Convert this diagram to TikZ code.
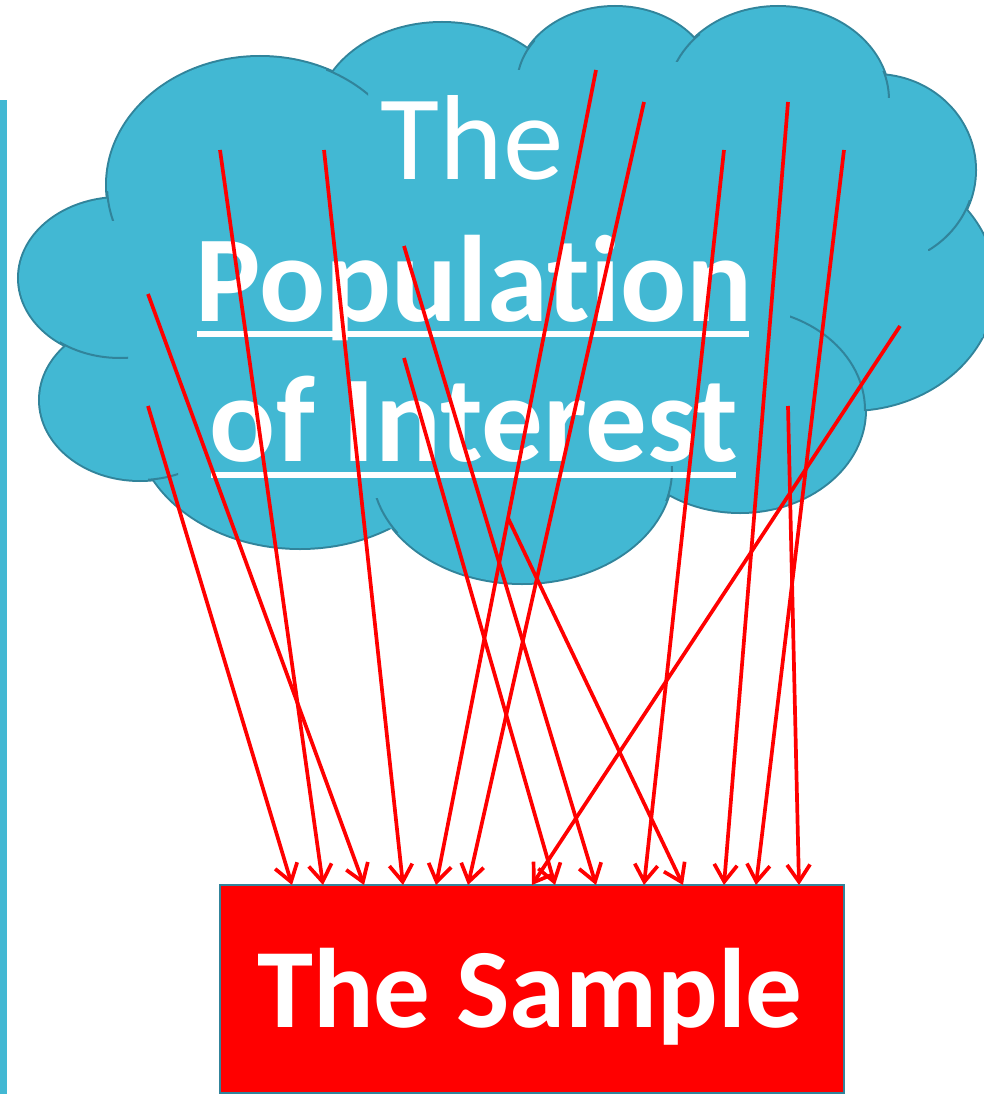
\documentclass[tikz,border=0pt]{standalone}
\usepackage{fontspec}
\setmainfont{Carlito}[Ligatures=NoCommon]
\usetikzlibrary{arrows.meta}
\definecolor{cloudfill}{RGB}{66,184,211}
\definecolor{cloudline}{RGB}{49,132,155}
\definecolor{boxred}{RGB}{255,0,0}
\begin{document}
\begin{tikzpicture}[x=1pt,y=-1pt,
  cloudedge/.style={draw=cloudline, line width=4pt},
  cloudinner/.style={draw=cloudline, line width=2pt},
  samplebox/.style={fill=boxred, draw=cloudline, line width=2pt, minimum width=624pt, minimum height=208pt, inner sep=0pt},
  titlereg/.style={text=white, anchor=base, inner sep=0pt, font=\fontsize{121}{121}\selectfont},
  titlebold/.style={text=white, anchor=base, inner sep=0pt, font=\fontsize{123}{123}\selectfont\bfseries},
  sampletext/.style={text=white, anchor=base, inner sep=0pt, font=\fontsize{113}{113}\selectfont\bfseries},
  samplearrow/.style={draw=red, line width=3.7pt, -{Straight Barb[length=17pt,width=23pt]}},
  uline/.style={fill=white}
]
\useasboundingbox (0,0) rectangle (983,1094);
% left bar
\fill[cloudfill] (0,100) rectangle (7,1094);
% cloud: strokes first
\foreach \cx/\cy/\rx/\ry in {260/185/153/128, 442/120/125/97, 615/85/98/78, 778/100/111/93, 875/170/100/95, 850/285/145/125, 740/410/125/102, 522/470/150/113, 300/420/165/128, 140/400/100/80, 120/278/101/80}
  \draw[cloudedge] (\cx,\cy) ellipse [x radius=\rx, y radius=\ry];
% cloud: fills
\foreach \cx/\cy/\rx/\ry in {260/185/153/128, 442/120/125/97, 615/85/98/78, 778/100/111/93, 875/170/100/95, 850/285/145/125, 740/410/125/102, 522/470/150/113, 300/420/165/128, 140/400/100/80, 120/278/101/80}
  \fill[cloudfill] (\cx,\cy) ellipse [x radius=\rx, y radius=\ry];
\fill[cloudfill] (107,200) -- (333,72) -- (530,50) -- (693,40) -- (885,78) -- (965,212) -- (983,337) -- (865,407) -- (665,495) -- (393,529) -- (152,477) -- (70,345) -- cycle;
% interior arcs
\begin{scope}\clip (326,60) rectangle (368,100); \draw[cloudinner] (260,185) ellipse [x radius=153, y radius=128];\end{scope}
\begin{scope}\clip (100,192) rectangle (116,220); \draw[cloudinner] (260,185) ellipse [x radius=153, y radius=128];\end{scope}
\begin{scope}\clip (60,335) rectangle (128,362); \draw[cloudinner] (120,278) ellipse [x radius=101, y radius=80];\end{scope}
\begin{scope}\clip (148,462) rectangle (178,485); \draw[cloudinner] (140,400) ellipse [x radius=100, y radius=80];\end{scope}
\begin{scope}\clip (372,498) rectangle (398,532); \draw[cloudinner] (522,470) ellipse [x radius=150, y radius=113];\end{scope}
\begin{scope}\clip (660,466) rectangle (676,500); \draw[cloudinner] (522,470) ellipse [x radius=150, y radius=113];\end{scope}
\begin{scope}\clip (790,300) rectangle (870,410); \draw[cloudinner] (740,410) ellipse [x radius=125, y radius=102];\end{scope}
\begin{scope}\clip (928,200) rectangle (972,250); \draw[cloudinner] (875,170) ellipse [x radius=100, y radius=95];\end{scope}
\begin{scope}\clip (878,72) rectangle (895,98); \draw[cloudinner] (778,100) ellipse [x radius=111, y radius=93];\end{scope}
\begin{scope}\clip (672,30) rectangle (700,62); \draw[cloudinner] (778,100) ellipse [x radius=111, y radius=93];\end{scope}
\begin{scope}\clip (515,38) rectangle (535,70); \draw[cloudinner] (615,85) ellipse [x radius=98, y radius=78];\end{scope}
% title text
\node[titlereg] (title1) at (472,179) {The};
\node[titlebold] (title2) at (474,321) {Population};
\node[titlebold] (title3) at (474,461) {of Interest};
\fill[uline] (197,331) rectangle (749,337);
\fill[uline] (211,472) rectangle (736,478);
% sample box
\node[samplebox] (sample) at (532,989) {};
\node[sampletext] (sampletxt) at (530,1027) {The Sample};
% arrows
\foreach \i/\sx/\sy/\tx in {1/148/406/292, 2/220/150/323, 3/148/294/364, 4/324/150/403, 5/596/70/436, 6/644/102/468, 7/900/326/532, 8/404/358/555, 9/404/246/596, 10/508/518/683, 11/724/150/644, 12/788/102/724, 13/844/150/756, 14/788/406/799} {
  \coordinate (s\i) at (\sx,\sy);
  \coordinate (t\i) at (\tx,885);
  \draw[samplearrow] (s\i) -- (t\i);
}
\end{tikzpicture}
\end{document}
